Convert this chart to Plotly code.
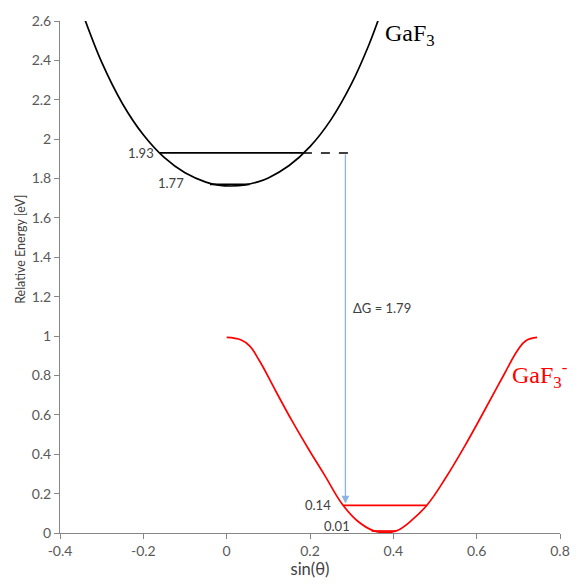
import plotly.graph_objects as go

# Potential energy curves: relative energy (eV) vs sin(theta)
gaf3_x = [-0.34, -0.30, -0.25, -0.20, -0.15, -0.10, -0.05, -0.02, 0.012, 0.045,
          0.075, 0.10, 0.15, 0.20, 0.25, 0.30, 0.34, 0.364]
gaf3_y = [2.606, 2.391, 2.180, 2.022, 1.907, 1.829, 1.782, 1.767, 1.762, 1.768,
          1.783, 1.803, 1.866, 1.962, 2.098, 2.283, 2.472, 2.606]

anion_x = [0.0, 0.035, 0.055, 0.078, 0.118, 0.157, 0.196, 0.235, 0.278, 0.314,
           0.353, 0.38, 0.408, 0.447, 0.482, 0.525, 0.572, 0.62, 0.667, 0.698,
           0.718, 0.745]
anion_y = [0.993, 0.98, 0.95, 0.877, 0.72, 0.569, 0.428, 0.294, 0.145, 0.061,
           0.011, 0.003, 0.011, 0.07, 0.145, 0.278, 0.444, 0.627, 0.81, 0.927,
           0.976, 0.993]

# Vibrational levels: energy, x-start, x-end
gaf3_levels = [1.93, 1.77]
gaf3_level_x0 = [-0.16, -0.04]
gaf3_level_x1 = [0.183, 0.055]
anion_levels = [0.14, 0.01]
anion_level_x0 = [0.28, 0.348]
anion_level_x1 = [0.48, 0.407]

# Dashed extension of the upper level and the vertical transition
dash_x = [0.183, 0.30]
transition_x = 0.285
transition_top = 1.93
transition_bottom = 0.15
delta_g = 1.79

x_tickvals = [-0.4, -0.2, 0, 0.2, 0.4, 0.6, 0.8]
x_ticktext = ["-0.4", "-0.2", "0", "0.2", "0.4", "0.6", "0.8"]
y_tickvals = [0, 0.2, 0.4, 0.6, 0.8, 1, 1.2, 1.4, 1.6, 1.8, 2, 2.2, 2.4, 2.6]
y_ticktext = ["0", "0.2", "0.4", "0.6", "0.8", "1", "1.2", "1.4", "1.6", "1.8",
              "2", "2.2", "2.4", "2.6"]

FONT = "Lato"
TXT = "#404040"
AX = "#868686"

fig = go.Figure()

fig.add_trace(go.Scatter(x=gaf3_x, y=gaf3_y, mode="lines",
                         line=dict(color="black", width=1.7, shape="spline", smoothing=1.0),
                         hoverinfo="skip", showlegend=False, cliponaxis=True))
fig.add_trace(go.Scatter(x=anion_x, y=anion_y, mode="lines",
                         line=dict(color="#ff0000", width=1.7, shape="spline", smoothing=1.2),
                         hoverinfo="skip", showlegend=False, cliponaxis=False))

for e, a, b in zip(gaf3_levels, gaf3_level_x0, gaf3_level_x1):
    fig.add_trace(go.Scatter(x=[a, b], y=[e, e], mode="lines",
                             line=dict(color="black", width=1.7),
                             hoverinfo="skip", showlegend=False, cliponaxis=False))
for e, a, b in zip(anion_levels, anion_level_x0, anion_level_x1):
    fig.add_trace(go.Scatter(x=[a, b], y=[e, e], mode="lines",
                             line=dict(color="#ff0000", width=1.7),
                             hoverinfo="skip", showlegend=False, cliponaxis=False))

fig.add_trace(go.Scatter(x=dash_x, y=[gaf3_levels[0]] * 2, mode="lines",
                         line=dict(color="black", width=1.6, dash="dash"),
                         hoverinfo="skip", showlegend=False, cliponaxis=False))

# Vertical transition arrow
fig.add_annotation(x=transition_x, y=transition_bottom, ax=transition_x, ay=transition_top,
                   xref="x", yref="y", axref="x", ayref="y", text="",
                   showarrow=True, arrowhead=2, arrowsize=1.2, arrowwidth=1.3,
                   arrowcolor="#8db3e2", standoff=0, startstandoff=0)

label_font = dict(family=FONT, size=13, color=TXT)
# Level value labels
fig.add_annotation(x=gaf3_level_x0[0] - 0.01, y=gaf3_levels[0], text=f"{gaf3_levels[0]:.2f}",
                   showarrow=False, xanchor="right", yanchor="middle", font=label_font)
fig.add_annotation(x=gaf3_level_x0[1] - 0.058, y=gaf3_levels[1] + 0.008, text=f"{gaf3_levels[1]:.2f}",
                   showarrow=False, xanchor="right", yanchor="middle", font=label_font)
fig.add_annotation(x=anion_level_x0[0] - 0.026, y=anion_levels[0], text=f"{anion_levels[0]:.2f}",
                   showarrow=False, xanchor="right", yanchor="middle", font=label_font)
fig.add_annotation(x=anion_level_x0[1] - 0.047, y=anion_levels[1] + 0.026, text=f"{anion_levels[1]:.2f}",
                   showarrow=False, xanchor="right", yanchor="middle", font=label_font)
fig.add_annotation(x=transition_x + 0.014, y=1.143, text=f"ΔG = {delta_g:.2f}",
                   showarrow=False, xanchor="left", yanchor="middle", font=label_font)

# Species labels
fig.add_annotation(x=0.376, y=2.53, text="GaF<sub>3</sub>", showarrow=False,
                   xanchor="left", yanchor="middle",
                   font=dict(family="Liberation Serif", size=24, color="black"))
fig.add_annotation(x=0.68, y=0.80, text="GaF<sub>3</sub><sup>-</sup>", showarrow=False,
                   xanchor="left", yanchor="middle",
                   font=dict(family="Liberation Serif", size=24, color="#ff0000"))

# Y axis title
fig.add_annotation(x=-0.078, y=0.553, xref="paper", yref="paper", text="Relative Energy [eV]",
                   showarrow=False, textangle=-90, xanchor="center", yanchor="middle",
                   font=dict(family=FONT, size=12.5, color=TXT))

fig.update_layout(
    width=582, height=585,
    margin=dict(l=60, r=12, t=18, b=46),
    paper_bgcolor="white", plot_bgcolor="white",
    font=dict(family=FONT, size=14, color="#595959"),
    xaxis=dict(range=[-0.4, 0.8], tickvals=x_tickvals, ticktext=x_ticktext,
               showgrid=False, zeroline=False, showline=True, linecolor=AX, linewidth=1,
               ticks="outside", ticklen=5, tickcolor=AX,
               title=dict(text="sin(θ)", font=dict(family=FONT, size=16.5, color=TXT), standoff=3)),
    yaxis=dict(range=[0, 2.6], tickvals=y_tickvals, ticktext=y_ticktext,
               showgrid=False, zeroline=False, showline=True, linecolor=AX, linewidth=1,
               ticks="outside", ticklen=5, tickcolor=AX),
)

fig.write_html("out.html")
